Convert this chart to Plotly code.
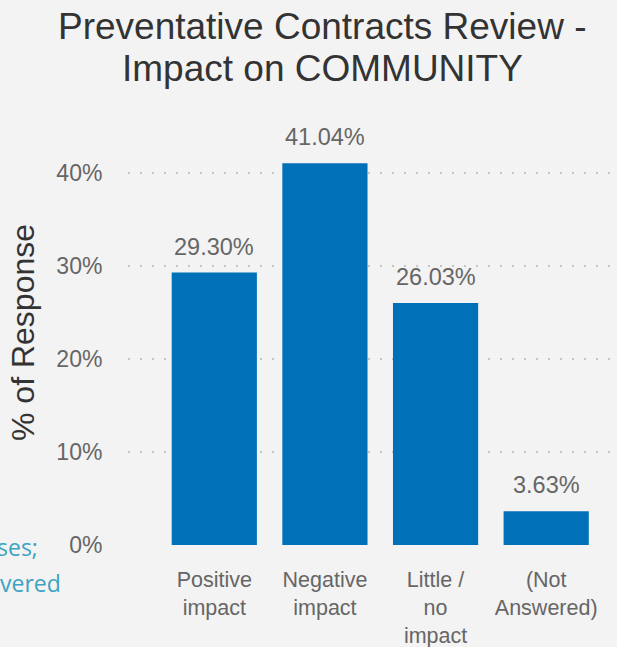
import plotly.graph_objects as go

# chart data
categories = ["Positive<br>impact", "Negative<br>impact", "Little /<br>no<br>impact", "(Not<br>Answered)"]
shares = [0.2930, 0.4104, 0.2603, 0.0363]
y_ticks = [0, 0.1, 0.2, 0.3, 0.4]
y_tick_labels = ["0%", "10%", "20%", "30%", "40%"]
title_lines = ["Preventative Contracts Review -", "Impact on COMMUNITY"]
side_fragments = ["ses;", "vered"]

bar_colour = "#0070b9"
bg = "#f3f3f3"
grid = "#c4c4c4"
font_main = "Liberation Sans, Arial"

fig = go.Figure()

fig.add_trace(go.Bar(
    x=list(range(len(categories))),
    y=shares,
    width=0.77,
    marker=dict(color=bar_colour, line=dict(width=0)),
    hoverinfo="skip",
))

# value labels above the bars
for i, v in enumerate(shares):
    fig.add_annotation(
        x=i, y=v, text=f"{v * 100:.2f}%",
        showarrow=False, yanchor="bottom", yshift=11,
        font=dict(family=font_main, size=23.5, color="#666666"),
    )

# clipped text from a neighbouring visual, cut by the left edge
frag_right = [40, 63]
frag_y = [-2, -38]
for frag, xr, dy in zip(side_fragments, frag_right, frag_y):
    fig.add_annotation(
        xref="paper", yref="paper", x=(xr - 128) / 489, y=dy / 425,
        text=frag, showarrow=False, xanchor="right", yanchor="middle",
        font=dict(family="Open Sans", size=23, color="#3ba3c3"),
    )

# title, one annotation per line to keep the tight line spacing
title_mid = [26, 69]
for line, ym in zip(title_lines, title_mid):
    fig.add_annotation(
        xref="paper", yref="paper", x=(322 - 128) / 489, y=(545 - ym) / 425,
        text=line, showarrow=False, xanchor="center", yanchor="middle",
        font=dict(family=font_main, size=37, color="#333333"),
    )

fig.update_layout(
    width=617, height=647,
    margin=dict(l=128, r=0, t=120, b=102),
    paper_bgcolor=bg, plot_bgcolor=bg,
    showlegend=False,
    xaxis=dict(
        range=[-0.78, 3.64],
        tickmode="array",
        tickvals=list(range(len(categories))),
        ticktext=categories,
        ticks="outside", ticklen=15, tickcolor="rgba(0,0,0,0)",
        showgrid=False, zeroline=False, showline=False,
        automargin=False,
        tickfont=dict(family=font_main, size=21.5, color="#666666"),
    ),
    yaxis=dict(
        range=[0, 0.457],
        tickmode="array", tickvals=y_ticks, ticktext=y_tick_labels,
        ticks="outside", ticklen=20, tickcolor="rgba(0,0,0,0)",
        showgrid=True, gridcolor=grid, gridwidth=1.5, griddash="2px,10px",
        zeroline=False, showline=False,
        automargin=False,
        tickfont=dict(family=font_main, size=23, color="#666666"),
        title=dict(text="% of Response", standoff=12,
                   font=dict(family=font_main, size=32, color="#333333")),
    ),
)

fig.write_html("out.html", config={"displayModeBar": False},
               post_script="document.body.style.margin='0';")
